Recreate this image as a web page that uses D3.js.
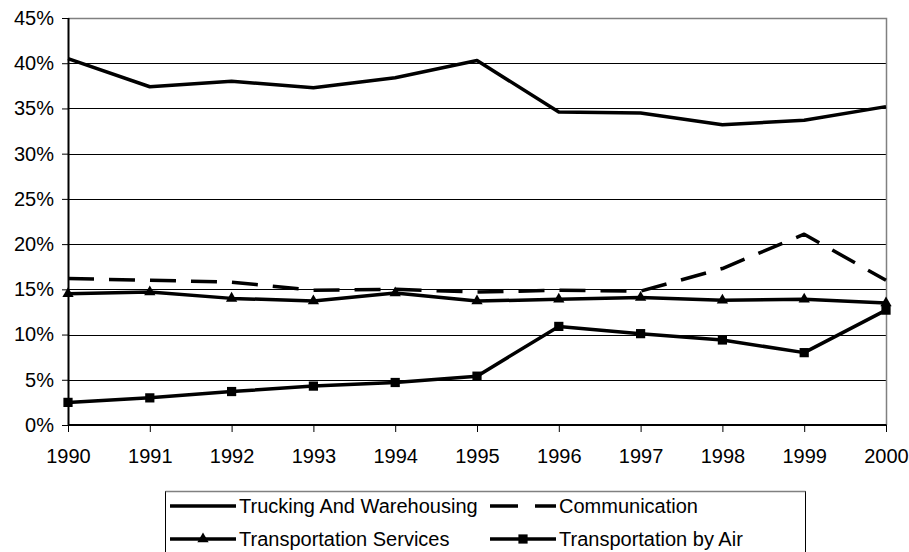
<!DOCTYPE html>
<html lang="en">
<head>
<meta charset="UTF-8">
<title>Industry shares</title>
<script src="https://cdn.jsdelivr.net/npm/d3@7"></script>
<style>
  body { margin: 0; background: #fff; }
  svg { font-family: "Liberation Sans", Arial, sans-serif; }
  .line { fill: none; stroke: #000; stroke-width: 3.5; stroke-linejoin: round; }
</style>
</head>
<body>
<div id="chart"></div>
<script>
// data (percent)
const years = [1990, 1991, 1992, 1993, 1994, 1995, 1996, 1997, 1998, 1999, 2000]
const trucking = [40.5, 37.4, 38.0, 37.3, 38.4, 40.3, 34.6, 34.5, 33.2, 33.7, 35.2]
const communication = [16.2, 16.0, 15.8, 14.9, 15.0, 14.7, 14.9, 14.8, 17.3, 21.1, 16.0]
const transServices = [14.5, 14.7, 14.0, 13.7, 14.6, 13.7, 13.9, 14.1, 13.8, 13.9, 13.5]
const transAir = [2.5, 3.0, 3.7, 4.3, 4.7, 5.4, 10.9, 10.1, 9.4, 8.0, 12.7]
const yTicks = [0, 5, 10, 15, 20, 25, 30, 35, 40, 45]

const width = 909, height = 552
const margin = { left: 68, top: 18, right: 23, bottom: 127 }
const g_width = width - margin.left - margin.right
const g_height = height - margin.top - margin.bottom
const fontSize = 20

const svg = d3.select('#chart').append('svg').attr('width', width).attr('height', height)
const g = svg.append('g').attr('transform', `translate(${margin.left},${margin.top})`)

const x = d3.scalePoint().domain(years).range([0, g_width])
const y = d3.scaleLinear().domain([0, 45]).range([g_height, 0])

// gridlines
g.selectAll('.grid').data(yTicks.filter(d => d > 0 && d < 45)).join('line')
  .attr('x1', 0).attr('x2', g_width)
  .attr('y1', d => Math.round(y(d)) + 0.5).attr('y2', d => Math.round(y(d)) + 0.5)
  .attr('stroke', '#000').attr('stroke-width', 1)

// plot border (top and right in gray)
g.append('path')
  .attr('d', `M0,0.5H${g_width + 0.5}V${g_height}`)
  .attr('fill', 'none').attr('stroke', '#808080').attr('stroke-width', 1.5)

// axes
const yAxis = g.append('g').call(d3.axisLeft(y).tickValues(yTicks).tickFormat(d => d + '%').tickSize(6).tickPadding(8))
const xAxis = g.append('g').attr('transform', `translate(0,${g_height})`)
  .call(d3.axisBottom(x).tickSize(7).tickPadding(17))
;[yAxis, xAxis].forEach(a => {
  a.select('.domain').attr('stroke', '#000').attr('stroke-width', 2)
  a.selectAll('.tick line').attr('stroke', '#000').attr('stroke-width', 1)
  a.selectAll('text').attr('font-size', fontSize).attr('fill', '#000')
    .attr('font-family', '"Liberation Sans", Arial, sans-serif')
})
xAxis.select('.domain').attr('d', `M0.5,0H${g_width + 0.5}`)
yAxis.select('.domain').attr('d', `M0.5,0V${g_height}`)

const series = [
  { name: 'Trucking And Warehousing', values: trucking, dash: null, marker: null },
  { name: 'Communication', values: communication, dash: '26,15', marker: null },
  { name: 'Transportation Services', values: transServices, dash: null, marker: 'triangle' },
  { name: 'Transportation by Air', values: transAir, dash: null, marker: 'square' }
]

const line = d3.line().x((d, i) => x(years[i])).y(d => y(d))
const sym = {
  triangle: d3.symbol().type(d3.symbolTriangle).size(55),
  square: d3.symbol().type(d3.symbolSquare).size(85)
}

series.forEach(s => {
  g.append('path').attr('class', 'line').attr('d', line(s.values))
    .attr('stroke-dasharray', s.dash)
  if (s.marker) {
    g.selectAll(null).data(s.values).join('path')
      .attr('d', sym[s.marker])
      .attr('transform', (d, i) => `translate(${x(years[i])},${y(d)})`)
      .attr('fill', '#000')
  }
})

// legend
const legend = svg.append('g')
legend.append('rect').attr('x', 165.5).attr('y', 491.5).attr('width', 640).attr('height', 80)
  .attr('fill', '#fff').attr('stroke', '#000').attr('stroke-width', 1)
legend.append('path').attr('d', 'M165.5,491.5H805.5').attr('stroke', '#808080').attr('stroke-width', 1.5)

const legPos = [[170, 506], [490, 506], [170, 539], [490, 539]]
series.forEach((s, i) => {
  const [lx, ly] = legPos[i]
  const item = legend.append('g').attr('transform', `translate(${lx},${ly})`)
  item.append('line').attr('x1', 0).attr('x2', 66).attr('y1', 0).attr('y2', 0)
    .attr('stroke', '#000').attr('stroke-width', 3.5).attr('stroke-dasharray', s.dash ? '28,17' : null)
  if (s.marker) {
    item.append('path').attr('d', sym[s.marker]).attr('transform', 'translate(33,0)').attr('fill', '#000')
  }
  item.append('text').attr('x', 69).attr('y', 0).attr('dy', '0.35em')
    .attr('font-size', fontSize).attr('fill', '#000').text(s.name)
})
</script>
</body>
</html>
